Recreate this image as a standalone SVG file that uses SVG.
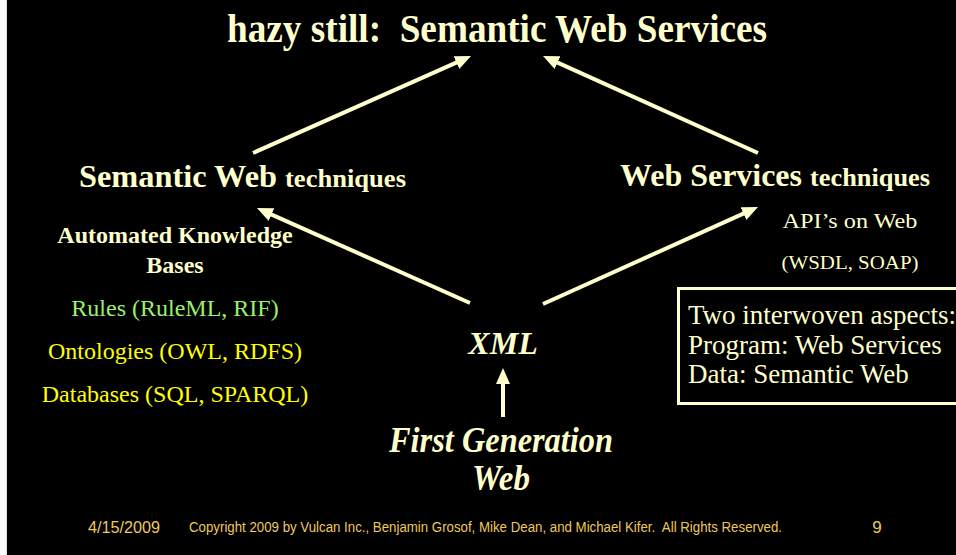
<svg xmlns="http://www.w3.org/2000/svg" width="956" height="555" viewBox="0 0 956 555">
  <style>
    .serif { font-family: "Liberation Serif", "Times New Roman", Times, serif; }
    .cream { fill: #FFFFCC; }
    .bold { font-weight: bold; }
    .conn { stroke: #FFFFCC; stroke-width: 4; fill: none; marker-end: url(#head); }
    .foot { font-family: "Liberation Sans", Arial, sans-serif; fill: #EFC85A; }
  </style>
  <defs>
    <marker id="head" markerUnits="userSpaceOnUse" markerWidth="16" markerHeight="14" refX="6" refY="7" orient="auto">
      <path d="M0,0 L16,7 L0,14 z" fill="#FFFFCC"/>
    </marker>
  </defs>

  <!-- slide background with light margin on the left -->
  <rect x="0" y="0" width="956" height="555" fill="#FAFAFA"/>
  <rect x="7" y="0" width="949" height="555" fill="#000000"/>
  <line x1="6.5" y1="0" x2="6.5" y2="555" stroke="#D8D8D8" stroke-width="1"/>

  <!-- title -->
  <g id="title">
    <text class="serif cream bold" x="497" y="42" font-size="40" text-anchor="middle" textLength="540" lengthAdjust="spacingAndGlyphs" xml:space="preserve">hazy still:  Semantic Web Services</text>
  </g>

  <!-- connectors -->
  <g id="connectors">
    <line class="conn" x1="253" y1="153" x2="461.9" y2="60.1"/>
    <line class="conn" x1="758" y1="153" x2="552.1" y2="60.1"/>
    <line class="conn" x1="470" y1="303" x2="266.1" y2="212.1"/>
    <line class="conn" x1="543" y1="304" x2="748.9" y2="211.1"/>
    <line class="conn" x1="503" y1="417" x2="503" y2="378"/>
  </g>

  <!-- semantic web side -->
  <g id="semantic-web">
    <text class="serif cream bold" x="79" y="187"><tspan font-size="32" textLength="198" lengthAdjust="spacingAndGlyphs">Semantic Web</tspan><tspan font-size="26" dx="8" textLength="121" lengthAdjust="spacingAndGlyphs">techniques</tspan></text>
    <text class="serif cream bold" x="175" y="243" font-size="24" text-anchor="middle">Automated Knowledge</text>
    <text class="serif cream bold" x="175" y="273" font-size="24" text-anchor="middle">Bases</text>
    <text class="serif" x="175" y="316" font-size="24" text-anchor="middle" fill="#99F06A">Rules (RuleML, RIF)</text>
    <text class="serif" x="175" y="359" font-size="24" text-anchor="middle" fill="#FFFF00">Ontologies (OWL, RDFS)</text>
    <text class="serif" x="175" y="402" font-size="24" text-anchor="middle" fill="#FFFF00">Databases (SQL, SPARQL)</text>
  </g>

  <!-- web services side -->
  <g id="web-services">
    <text class="serif cream bold" x="620" y="186"><tspan font-size="32" textLength="182" lengthAdjust="spacingAndGlyphs">Web Services</tspan><tspan font-size="26" dx="8" textLength="120" lengthAdjust="spacingAndGlyphs">techniques</tspan></text>
    <text class="serif cream" x="850" y="228" font-size="22" text-anchor="middle" textLength="135" lengthAdjust="spacingAndGlyphs">API’s on Web</text>
    <text class="serif cream" x="850" y="269" font-size="19" text-anchor="middle" textLength="137" lengthAdjust="spacingAndGlyphs">(WSDL, SOAP)</text>
  </g>

  <!-- aspects box -->
  <g id="aspects">
    <rect x="678.5" y="288.5" width="290" height="115" fill="none" stroke="#FFFFCC" stroke-width="3"/>
    <text class="serif cream" x="688" y="324" font-size="27">Two interwoven aspects:</text>
    <text class="serif cream" x="688" y="354" font-size="27">Program: Web Services</text>
    <text class="serif cream" x="688" y="383" font-size="27">Data: Semantic Web</text>
  </g>

  <!-- xml -->
  <g id="xml">
    <text class="serif cream bold" x="503" y="354" font-size="32" font-style="italic" text-anchor="middle">XML</text>
  </g>

  <!-- first generation web -->
  <g id="first-generation-web">
    <text class="serif cream bold" x="501" y="452" font-size="35" font-style="italic" text-anchor="middle" textLength="224" lengthAdjust="spacingAndGlyphs">First Generation</text>
    <text class="serif cream bold" x="501" y="490" font-size="35" font-style="italic" text-anchor="middle" textLength="58" lengthAdjust="spacingAndGlyphs">Web</text>
  </g>

  <!-- footer -->
  <g id="footer">
    <text class="foot" x="88" y="533" font-size="16" textLength="72" lengthAdjust="spacingAndGlyphs">4/15/2009</text>
    <text class="foot" x="189" y="532" font-size="14" textLength="593" lengthAdjust="spacingAndGlyphs" xml:space="preserve">Copyright 2009 by Vulcan Inc., Benjamin Grosof, Mike Dean, and Michael Kifer.  All Rights Reserved.</text>
    <text class="foot" x="877" y="533" font-size="17" text-anchor="middle">9</text>
  </g>
</svg>
